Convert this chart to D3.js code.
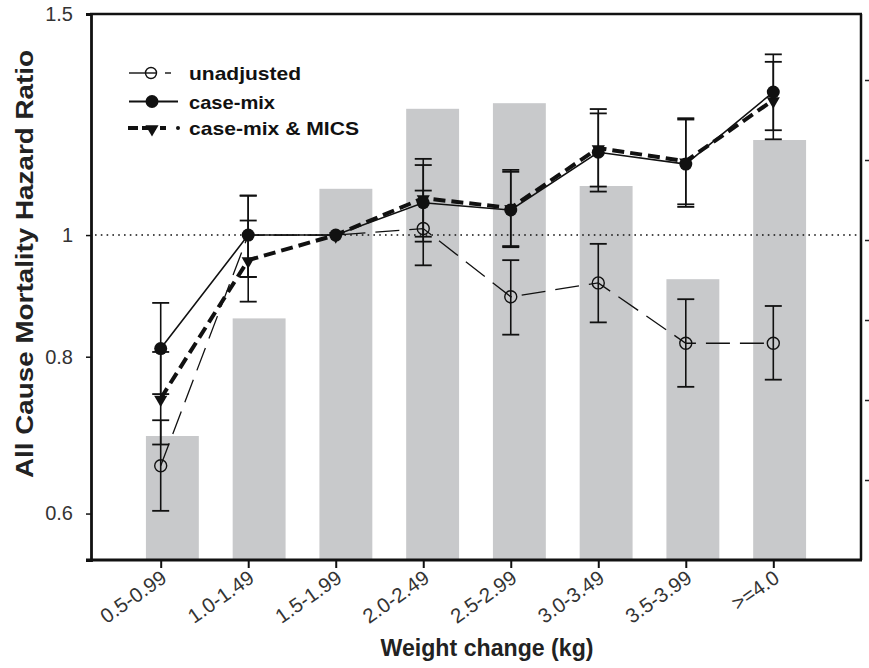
<!DOCTYPE html>
<html>
<head>
<meta charset="utf-8">
<script src="https://cdn.jsdelivr.net/npm/d3@7"></script>
<style>
  html, body { margin: 0; padding: 0; background: #fff; }
  svg { display: block; }
</style>
</head>
<body>
<svg id="chart" width="869" height="668"></svg>
<script>
// ---------------- data ----------------
const categories = ["0.5-0.99", "1.0-1.49", "1.5-1.99", "2.0-2.49", "2.5-2.99", "3.0-3.49", "3.5-3.99", ">=4.0"];
// background bars (right axis, unlabeled)
const barValues = [1.55, 3.02, 4.64, 5.64, 5.71, 4.675, 3.51, 5.25];
const rightTicks = [1, 2, 3, 4, 5, 6];

const unadjHR = [0.655, 1.0, 1.0, 1.012, 0.893, 0.916, 0.820, 0.820];
const unadjLo = [0.603, 0.926, null, 0.946, 0.833, 0.852, 0.757, 0.767];
const unadjHi = [0.712, 1.075, null, 1.085, 0.955, 0.984, 0.889, 0.878];

const caseMixHR = [0.812, 1.0, 1.0, 1.061, 1.047, 1.164, 1.139, 1.300];
const caseMixLo = [0.747, 0.926, null, 0.988, 0.978, 1.083, 1.053, 1.212];
const caseMixHi = [0.883, 1.075, null, 1.137, 1.123, 1.250, 1.236, 1.393];

const micsHR = [0.741, 0.955, 1.0, 1.070, 1.051, 1.173, 1.145, 1.281];
const micsLo = [0.681, 0.885, null, 0.997, 0.980, 1.093, 1.058, 1.192];
const micsHi = [0.807, 1.027, null, 1.150, 1.127, 1.260, 1.239, 1.374];

const yTicks = [0.6, 0.8, 1, 1.5];
const seriesNames = ["unadjusted", "case-mix", "case-mix & MICS"];
const xTitle = "Weight change (kg)";
const yTitle = "All Cause Mortality Hazard Ratio";

// ---------------- layout ----------------
const L = 91, R = 861, T = 14, B = 560;
const FONT = "Liberation Sans, Arial, sans-serif";
const svg = d3.select("#chart");

const x = d3.scalePoint().domain(categories).range([160.7, 773.3]);
const xb = d3.scaleBand().domain(categories).range([129, 823]).paddingInner(0.39).paddingOuter(0.195);
const y = d3.scaleLog().domain([0.551, 1.5]).range([B, T]);
const yc = d3.scaleLinear().domain([0, 6.825]).range([B, T]);

// bars
svg.append("g").selectAll("rect").data(barValues).join("rect")
  .attr("x", (d, i) => xb(categories[i]))
  .attr("width", xb.bandwidth())
  .attr("y", d => yc(d))
  .attr("height", d => B - yc(d))
  .attr("fill", "#c8c9cb");

// reference line at 1
svg.append("line")
  .attr("x1", L + 4).attr("x2", R - 2)
  .attr("y1", y(1)).attr("y2", y(1))
  .attr("stroke", "#111").attr("stroke-width", 1.6)
  .attr("stroke-dasharray", "1.6,4.2");

// error bars
function errorBars(lo, hi, cls) {
  const g = svg.append("g").attr("class", cls);
  categories.forEach((c, i) => {
    if (lo[i] == null) return;
    const cx = x(c);
    g.append("line").attr("x1", cx).attr("x2", cx).attr("y1", y(lo[i])).attr("y2", y(hi[i]))
      .attr("stroke", "#111").attr("stroke-width", 1.6);
    [lo[i], hi[i]].forEach(v => {
      g.append("line").attr("x1", cx - 8.5).attr("x2", cx + 8.5).attr("y1", y(v)).attr("y2", y(v))
        .attr("stroke", "#111").attr("stroke-width", 1.8);
    });
  });
}
errorBars(unadjLo, unadjHi, "eb-unadj");
errorBars(micsLo, micsHi, "eb-mics");
errorBars(caseMixLo, caseMixHi, "eb-cm");

const line = d3.line().x((d, i) => x(categories[i])).y(d => y(d));

// unadjusted line
svg.append("path").datum(unadjHR).attr("d", line)
  .attr("fill", "none").attr("stroke", "#111").attr("stroke-width", 1.3)
  .attr("stroke-dasharray", "24,10");
// case-mix line
svg.append("path").datum(caseMixHR).attr("d", line)
  .attr("fill", "none").attr("stroke", "#111").attr("stroke-width", 1.6);
// MICS line
svg.append("path").datum(micsHR).attr("d", line)
  .attr("fill", "none").attr("stroke", "#111").attr("stroke-width", 4)
  .attr("stroke-dasharray", "12,6");

// markers
const tri = d3.symbol().type(d3.symbolTriangle).size(75);
svg.append("g").selectAll("path").data(micsHR).join("path")
  .attr("d", tri)
  .attr("transform", (d, i) => `translate(${x(categories[i])},${y(d) + 1}) rotate(180)`)
  .attr("fill", "#111");
svg.append("g").selectAll("circle").data(caseMixHR).join("circle")
  .attr("cx", (d, i) => x(categories[i])).attr("cy", d => y(d)).attr("r", 6.5)
  .attr("fill", "#111");
svg.append("g").selectAll("circle").data(unadjHR).join("circle")
  .attr("cx", (d, i) => x(categories[i])).attr("cy", d => y(d)).attr("r", 6)
  .attr("fill", "none").attr("stroke", "#111").attr("stroke-width", 1.4)
  .style("display", (d, i) => i === 1 || i === 2 ? "none" : null);

// ---------------- axes ----------------
// frame top & right
svg.append("line").attr("x1", L - 1).attr("x2", R + 1).attr("y1", T).attr("y2", T)
  .attr("stroke", "#111").attr("stroke-width", 2.5);
svg.append("line").attr("x1", R).attr("x2", R).attr("y1", T).attr("y2", B)
  .attr("stroke", "#111").attr("stroke-width", 2.5);

// left axis
const gl = svg.append("g").attr("transform", `translate(${L},0)`)
  .call(d3.axisLeft(y).tickValues(yTicks).tickFormat(d => String(d)).tickSize(5).tickPadding(13));
gl.select(".domain").attr("stroke", "#111").attr("stroke-width", 2.8);
gl.selectAll(".tick line").attr("stroke", "#111").attr("stroke-width", 1.5);
gl.selectAll(".tick text").attr("font-family", FONT)
  .attr("font-size", 20).attr("fill", "#333");

// right axis (unlabeled ticks)
const gr = svg.append("g").attr("transform", `translate(${R + 4},0)`)
  .call(d3.axisRight(yc).tickValues(rightTicks).tickFormat("").tickSize(4));
gr.select(".domain").remove();
gr.selectAll(".tick line").attr("stroke", "#222").attr("stroke-width", 1.5);

// bottom axis
const gb = svg.append("g").attr("transform", `translate(0,${B})`)
  .call(d3.axisBottom(x).tickSize(8).tickPadding(6));
gb.select(".domain").attr("d", `M${L - 5},0H${R + 1}`).attr("stroke", "#111").attr("stroke-width", 2.8);
gb.selectAll(".tick line").attr("stroke", "#111").attr("stroke-width", 2);
gb.selectAll(".tick text")
  .attr("font-family", FONT)
  .attr("font-size", 20.5).attr("fill", "#333")
  .attr("text-anchor", "end")
  .attr("dy", null).attr("y", null)
  .attr("transform", "translate(7,21) rotate(-35)");

// axis titles
svg.append("text")
  .attr("x", 487).attr("y", 656)
  .attr("text-anchor", "middle")
  .attr("font-family", FONT)
  .attr("font-weight", "bold").attr("font-size", 23).attr("fill", "#222")
  .attr("textLength", 213).attr("lengthAdjust", "spacingAndGlyphs")
  .text(xTitle);

svg.append("text")
  .attr("transform", "translate(33,264) rotate(-90)")
  .attr("text-anchor", "middle")
  .attr("font-family", FONT)
  .attr("font-weight", "bold").attr("font-size", 23).attr("fill", "#222")
  .attr("textLength", 428).attr("lengthAdjust", "spacingAndGlyphs")
  .text(yTitle);

// ---------------- legend ----------------
const lg = svg.append("g");
const lgY = [73, 101.5, 128];
const lgW = [112, 86, 170];
seriesNames.forEach((name, i) => {
  lg.append("text").attr("x", 189).attr("y", lgY[i] + 7)
    .attr("font-family", FONT)
    .attr("font-weight", "bold").attr("font-size", 19).attr("fill", "#111")
    .attr("textLength", lgW[i]).attr("lengthAdjust", "spacingAndGlyphs")
    .text(name);
});
// unadjusted symbol
lg.append("line").attr("x1", 129).attr("x2", 145).attr("y1", lgY[0]).attr("y2", lgY[0]).attr("stroke", "#111").attr("stroke-width", 1.4);
lg.append("circle").attr("cx", 151).attr("cy", lgY[0]).attr("r", 5.5).attr("fill", "none").attr("stroke", "#111").attr("stroke-width", 1.4);
lg.append("line").attr("x1", 145).attr("x2", 157).attr("y1", lgY[0]).attr("y2", lgY[0]).attr("stroke", "#111").attr("stroke-width", 1.4);
lg.append("line").attr("x1", 165).attr("x2", 171).attr("y1", lgY[0]).attr("y2", lgY[0]).attr("stroke", "#111").attr("stroke-width", 1.4);
// case-mix symbol
lg.append("line").attr("x1", 129).attr("x2", 178).attr("y1", lgY[1]).attr("y2", lgY[1]).attr("stroke", "#111").attr("stroke-width", 2.2);
lg.append("circle").attr("cx", 152).attr("cy", lgY[1]).attr("r", 6.5).attr("fill", "#111");
// mics symbol
lg.append("line").attr("x1", 128).attr("x2", 174).attr("y1", lgY[2]).attr("y2", lgY[2]).attr("stroke", "#111").attr("stroke-width", 4)
  .attr("stroke-dasharray", "10,4,14,4,6,20");
lg.append("circle").attr("cx", 178).attr("cy", lgY[2]).attr("r", 2).attr("fill", "#111");
lg.append("path").attr("d", tri).attr("transform", `translate(152,${lgY[2] + 1}) rotate(180)`).attr("fill", "#111");
</script>
</body>
</html>
